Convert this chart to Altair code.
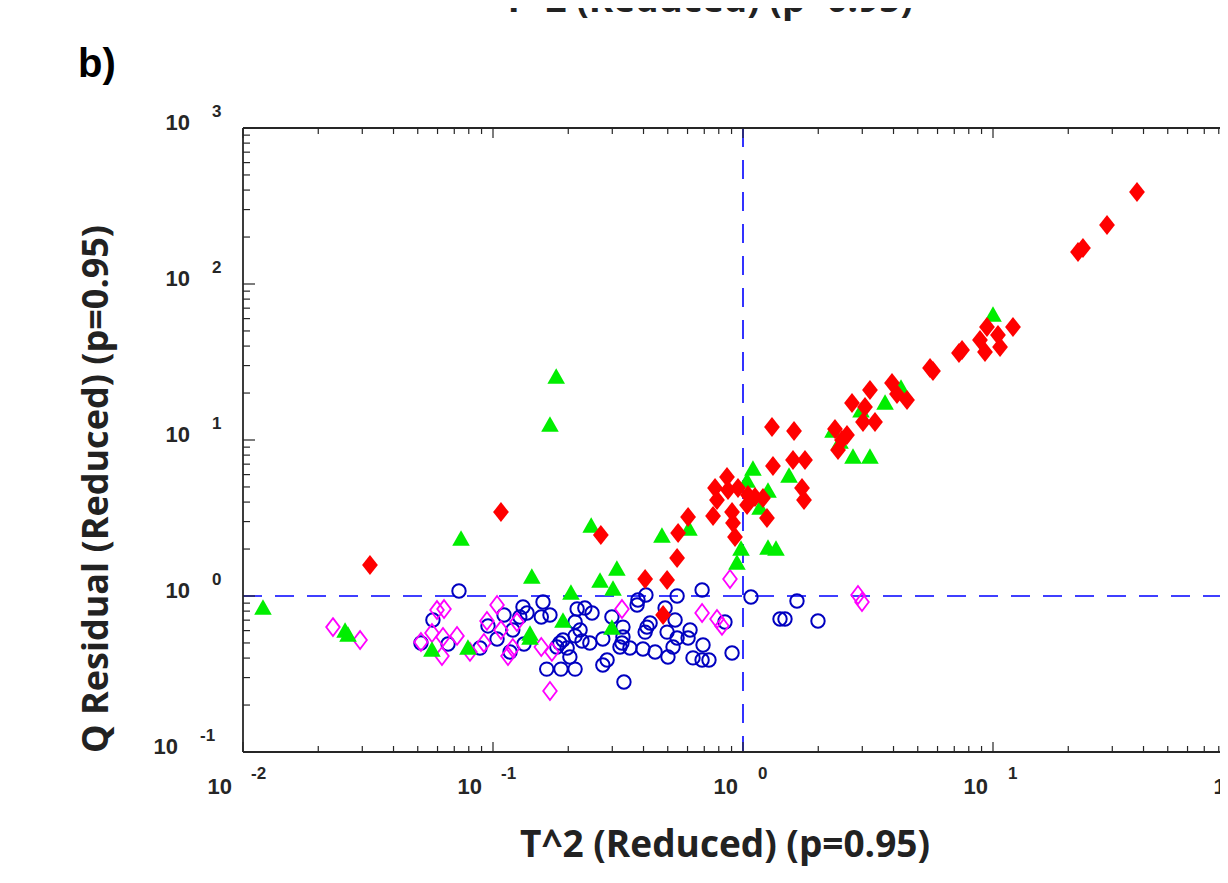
import altair as alt
import pandas as pd

# ---------------- data ----------------
blue_t2 = [0.0731, 0.0575, 0.0515, 0.0661, 0.1107, 0.0955, 0.1038, 0.0887,
           0.117, 0.1318, 0.1368, 0.128, 0.120, 0.133, 0.1585, 0.156,
           0.169, 0.185, 0.198, 0.180, 0.1905, 0.203, 0.164, 0.187,
           0.213, 0.217, 0.233, 0.249, 0.213, 0.223, 0.213, 0.227,
           0.244, 0.299, 0.275, 0.286, 0.275, 0.331, 0.331, 0.322,
           0.353, 0.328, 0.334, 0.380, 0.377, 0.409, 0.398, 0.413,
           0.425, 0.406, 0.445, 0.488, 0.497, 0.535, 0.545, 0.545,
           0.525, 0.501, 0.614, 0.603, 0.631, 0.686, 0.692, 0.686,
           0.731, 0.847, 0.904, 1.076, 1.644, 1.406, 1.472, 1.995]
blue_q = [1.077, 0.701, 0.500, 0.492, 0.755, 0.643, 0.530, 0.464,
          0.438, 0.850, 0.778, 0.733, 0.605, 0.492, 0.915, 0.733,
          0.755, 0.500, 0.464, 0.471, 0.522, 0.406, 0.340, 0.340,
          0.340, 0.825, 0.838, 0.778, 0.681, 0.605, 0.555, 0.515,
          0.500, 0.733, 0.530, 0.389, 0.361, 0.632, 0.546, 0.471,
          0.464, 0.500, 0.281, 0.943, 0.876, 1.015, 0.457, 0.632,
          0.671, 0.587, 0.438, 0.838, 0.587, 0.701, 1.000, 0.538,
          0.471, 0.406, 0.605, 0.538, 0.401, 1.093, 0.485, 0.389,
          0.389, 0.681, 0.431, 0.985, 0.929, 0.712, 0.712, 0.692]

magenta_t2 = [0.0229, 0.0294, 0.0515, 0.0570, 0.0597, 0.0637, 0.0631, 0.0625,
              0.0718, 0.0809, 0.0946, 0.1038, 0.1076, 0.1148, 0.120, 0.1247,
              0.156, 0.169, 0.172, 0.092, 0.328, 0.686, 0.787, 0.824,
              0.887, 2.884, 2.992]
magenta_q = [0.632, 0.522, 0.507, 0.579, 0.813, 0.825, 0.546, 0.412,
             0.555, 0.438, 0.692, 0.876, 0.605, 0.412, 0.464, 0.681,
             0.471, 0.246, 0.438, 0.500, 0.825, 0.778, 0.712, 0.643,
             1.285, 1.015, 0.915]

green_t2 = [0.01202, 0.0256, 0.0263, 0.0570, 0.0794, 0.0745, 0.143, 0.1406,
            0.1406, 0.179, 0.169, 0.247, 0.205, 0.1905, 0.313, 0.268,
            0.302, 0.299, 0.474, 0.608, 0.946, 0.982, 1.259, 1.355,
            1.096, 1.038, 1.259, 1.17, 1.528, 2.754, 3.22, 2.291,
            2.443, 3.70, 4.285, 2.965, 10.0]
green_q = [0.850, 0.605, 0.570, 0.457, 0.471, 2.355, 1.343, 0.579,
           0.546, 25.7, 12.67, 2.85, 1.061, 0.701, 1.51, 1.266,
           1.125, 0.632, 2.46, 2.73, 1.652, 2.03, 2.06, 2.03,
           6.62, 5.54, 4.78, 3.72, 5.97, 7.89, 7.89, 11.59,
           9.86, 17.5, 21.9, 15.6, 64.2]

red_t2 = [0.0322, 0.1076, 0.270, 0.406, 0.497, 0.545, 0.550, 0.603,
          0.759, 0.479, 0.773, 0.863, 0.787, 0.871, 0.955, 1.047,
          1.117, 1.202, 0.904, 0.912, 0.929, 1.038, 1.247, 1.306,
          1.60, 1.318, 1.585, 1.77, 1.722, 1.754, 2.333, 2.489,
          2.399, 2.606, 2.729, 3.076, 3.22, 3.02, 3.373, 3.945,
          4.13, 4.53, 5.60, 5.754, 7.31, 7.52, 8.87, 9.29,
          9.46, 10.47, 10.67, 12.02, 21.88, 22.9, 28.58, 37.67]
red_q = [1.58, 3.45, 2.46, 1.285, 1.266, 1.753, 2.535, 3.21,
         3.26, 0.755, 4.92, 5.79, 4.12, 4.78, 4.92, 4.44,
         4.31, 4.25, 3.45, 2.94, 2.39, 3.83, 3.16, 12.1,
         11.42, 6.81, 7.44, 7.44, 4.92, 4.12, 11.77, 10.0,
         8.63, 10.76, 17.27, 16.28, 20.9, 13.04, 13.04, 23.2,
         19.7, 18.04, 28.9, 27.7, 36.1, 37.8, 43.8, 36.7,
         53.0, 47.1, 39.5, 53.0, 160.4, 170.2, 238.8, 388.9]

t2_limit = [1.0]
q_limit = [1.0]

x_major = [0.01, 0.1, 1, 10]
x_minor = [0.02, 0.03, 0.04, 0.05, 0.06, 0.07, 0.08, 0.09,
           0.2, 0.3, 0.4, 0.5, 0.6, 0.7, 0.8, 0.9,
           2, 3, 4, 5, 6, 7, 8, 9,
           20, 30, 40, 50, 60, 70, 80]
y_major = [0.1, 1, 10, 100, 1000]
y_minor = [0.2, 0.3, 0.4, 0.5, 0.6, 0.7, 0.8, 0.9,
           2, 3, 4, 5, 6, 7, 8, 9,
           20, 30, 40, 50, 60, 70, 80, 90,
           200, 300, 400, 500, 600, 700, 800, 900]
x_label_values = [0.01, 0.1, 1, 10, 100]
x_label_exps = ["-2", "-1", "0", "1", "2"]
y_label_values = [0.1, 1, 10, 100, 1000]
y_label_exps = ["-1", "0", "1", "2", "3"]

x_title = "T^2 (Reduced) (p=0.95)"
y_title = "Q Residual (Reduced) (p=0.95)"
panel_label = "b)"

# ---------------- chart ----------------
W, H = 977, 624
AX = "#262626"
LAB_FONT = "Liberation Sans"
TITLE_FONT = "Open Sans"

xscale = alt.Scale(type="log", domain=[0.01, 80.91], nice=False)
yscale = alt.Scale(type="log", domain=[0.1, 1000], nice=False)


def xt(f):
    return alt.X(f"{f}:Q", scale=xscale, axis=None)


def yt(f):
    return alt.Y(f"{f}:Q", scale=yscale, axis=None)


def scatter(t2, q, **mark):
    return alt.Chart(pd.DataFrame({"t2": t2, "q": q})).mark_point(
        opacity=1, **mark).encode(x=xt("t2"), y=yt("q"))


vline = alt.Chart(pd.DataFrame({"v": t2_limit})).mark_rule(
    color="#0000ff", strokeWidth=1.6, strokeDash=[19, 13]
).encode(x=xt("v"), y=alt.value(0), y2=alt.value(H))
hline = alt.Chart(pd.DataFrame({"v": q_limit})).mark_rule(
    color="#0000ff", strokeWidth=1.6, strokeDash=[19, 13]
).encode(y=yt("v"), x=alt.value(0), x2=alt.value(W))

blue = scatter(blue_t2, blue_q, shape="circle", filled=False, size=180,
               color="#0000c0", strokeWidth=2.0)
magenta = scatter(magenta_t2, magenta_q, shape="M0,-1L0.76,0L0,1L-0.76,0Z",
                  filled=False, size=320, color="#ff00ff", strokeWidth=1.8)
green = scatter(green_t2, green_q, shape="M0,-0.88L1,0.88L-1,0.88Z",
                filled=True, size=310, color="#00ee00", strokeWidth=0)
red = scatter(red_t2, red_q, shape="M0,-1L0.79,0L0,1L-0.79,0Z",
              filled=True, size=400, color="#ff0000", strokeWidth=0)

frame_left = alt.Chart().mark_rule(color=AX, strokeWidth=1.8).encode(
    x=alt.value(0), y=alt.value(0), y2=alt.value(H))
frame_bottom = alt.Chart().mark_rule(color=AX, strokeWidth=1.8).encode(
    x=alt.value(0), x2=alt.value(W + 20), y=alt.value(H))
frame_top = alt.Chart().mark_rule(color=AX, strokeWidth=1.8).encode(
    x=alt.value(0), x2=alt.value(W + 20), y=alt.value(0))


def xticks(vals, y0, y1):
    return alt.Chart(pd.DataFrame({"v": vals})).mark_rule(
        color=AX, strokeWidth=1.2).encode(x=xt("v"), y=alt.value(y0), y2=alt.value(y1))


def yticks(vals, x0, x1):
    return alt.Chart(pd.DataFrame({"v": vals})).mark_rule(
        color=AX, strokeWidth=1.2).encode(y=yt("v"), x=alt.value(x0), x2=alt.value(x1))


ticks = [
    xticks(x_major, H - 10, H), xticks(x_minor, H - 6, H),
    xticks(x_major, 0, 10), xticks(x_minor, 0, 6),
    yticks(y_major, 0, 12), yticks(y_minor, 0, 7),
]

xl = pd.DataFrame({"v": x_label_values, "e": x_label_exps})
yl = pd.DataFrame({"v": y_label_values, "e": y_label_exps})
base_style = dict(font=LAB_FONT, fontWeight="bold", color=AX, baseline="alphabetic")

x_labels = [
    alt.Chart(xl).transform_filter("datum.v < 0.5").mark_text(
        align="right", dx=-11, fontSize=22, **base_style
    ).encode(x=xt("v"), y=alt.value(665.5), text=alt.value("10")),
    alt.Chart(xl).transform_filter("datum.v > 0.5").mark_text(
        align="right", dx=-5, fontSize=22, **base_style
    ).encode(x=xt("v"), y=alt.value(665.5), text=alt.value("10")),
    alt.Chart(xl).transform_filter("datum.v < 0.5").mark_text(
        align="left", dx=8, fontSize=17, **base_style
    ).encode(x=xt("v"), y=alt.value(651), text="e:N"),
    alt.Chart(xl).transform_filter("datum.v > 0.5").mark_text(
        align="left", dx=15, fontSize=17, **base_style
    ).encode(x=xt("v"), y=alt.value(651), text="e:N"),
]
y_labels = [
    alt.Chart(yl).transform_filter("datum.v < 0.5").mark_text(
        align="right", dy=2, fontSize=22, **base_style
    ).encode(y=yt("v"), x=alt.value(-65), text=alt.value("10")),
    alt.Chart(yl).transform_filter("datum.v > 0.5").mark_text(
        align="right", dy=2, fontSize=22, **base_style
    ).encode(y=yt("v"), x=alt.value(-53), text=alt.value("10")),
    alt.Chart(yl).transform_filter("datum.v < 0.5").mark_text(
        align="left", dy=-11, fontSize=17, **base_style
    ).encode(y=yt("v"), x=alt.value(-43), text="e:N"),
    alt.Chart(yl).transform_filter("datum.v > 0.5").mark_text(
        align="left", dy=-11, fontSize=17, **base_style
    ).encode(y=yt("v"), x=alt.value(-31), text="e:N"),
]

titles = pd.DataFrame({"xt": [x_title], "yt": [y_title], "p": [panel_label]})
title_style = dict(font=TITLE_FONT, fontWeight="bold",
                   color="#222222", baseline="alphabetic", align="center")
x_title_layer = alt.Chart(titles).mark_text(fontSize=37, **title_style).encode(
    x=alt.value(482), y=alt.value(729), text="xt:N")
top_cut_layer = alt.Chart(titles).mark_text(fontSize=37, **title_style).encode(
    x=alt.value(465), y=alt.value(-116), text="xt:N")
y_title_layer = alt.Chart(titles).mark_text(angle=270, fontSize=36, **title_style).encode(
    x=alt.value(-135), y=alt.value(361), text="yt:N")
panel_layer = alt.Chart(titles).mark_text(
    font=LAB_FONT, fontWeight="bold", fontSize=40, color="#000000",
    baseline="alphabetic", align="left"
).encode(x=alt.value(-165), y=alt.value(-51), text="p:N")

chart = alt.layer(
    vline, hline, blue, magenta, green, red,
    frame_left, frame_bottom, frame_top, *ticks,
    *x_labels, *y_labels,
    x_title_layer, top_cut_layer, y_title_layer, panel_layer,
).properties(
    width=W, height=H,
    autosize=alt.AutoSizeParams(type="none"),
    padding={"left": 235, "top": 120, "right": 0, "bottom": 116},
).configure_view(stroke=None)

chart.save("out.html", embed_options={"renderer": "svg", "actions": False})
